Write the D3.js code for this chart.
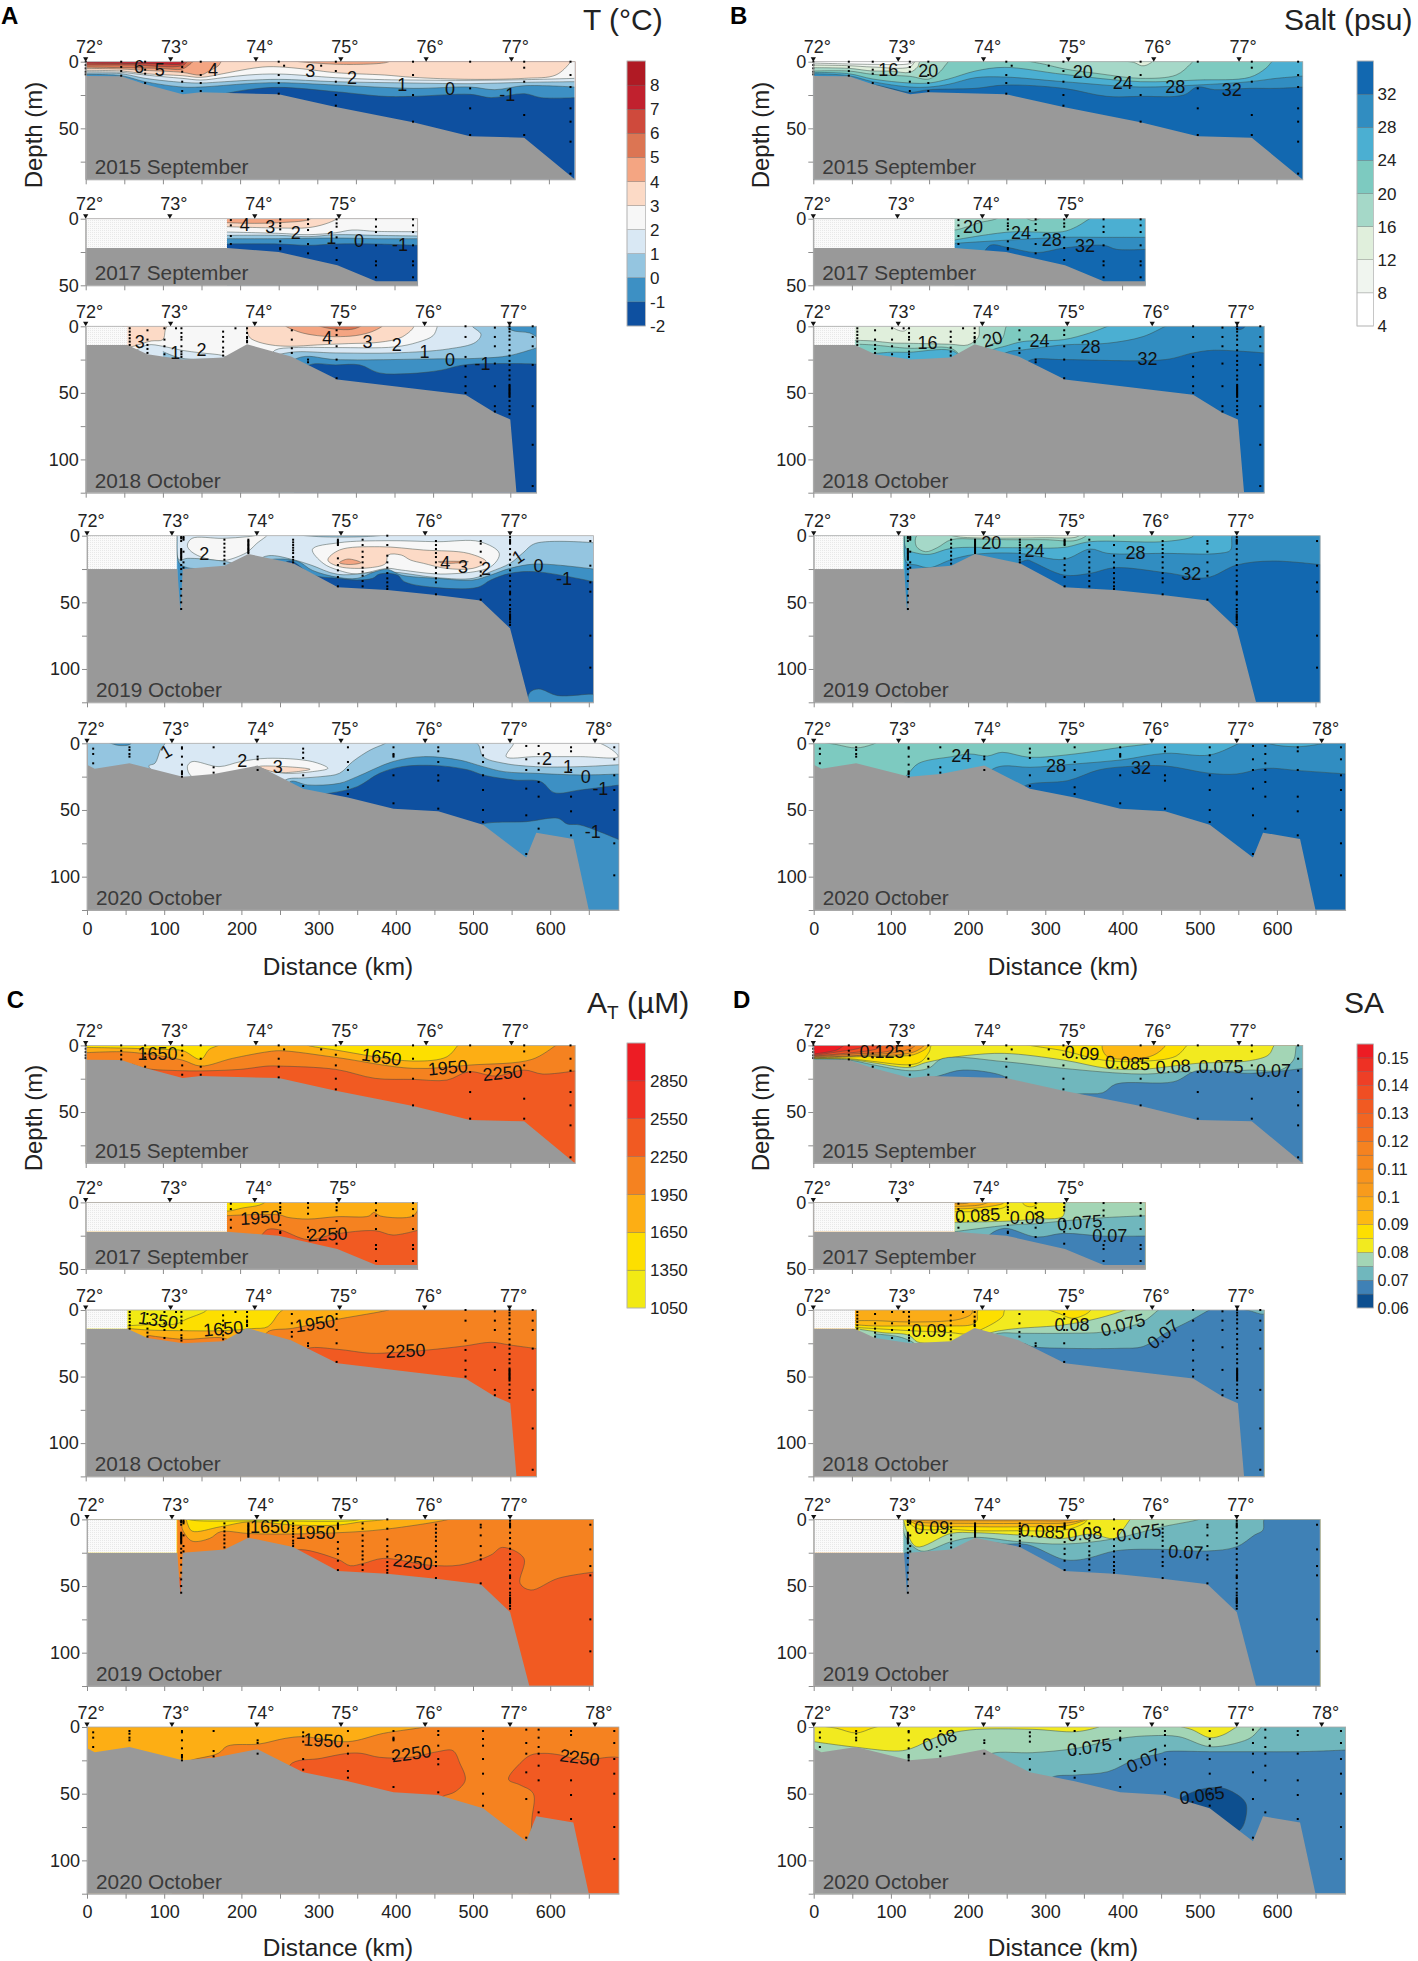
<!DOCTYPE html>
<html><head><meta charset="utf-8">
<script src="https://d3js.org/d3.v7.min.js"></script>
<style>html,body{margin:0;background:#fff}svg{display:block}text{font-family:"Liberation Sans",Arial,sans-serif}</style>
</head><body><svg id="c" width="1418" height="1961"></svg>
<script>
// ---------- scales of the colour bars ----------
const tLevels=[-2,-1,0,1,2,3,4,5,6,7,8];
const tColors=["#0e50a0","#3d90c4","#94c5e0","#d9e8f4","#f7f7f7","#fcdac6","#f4a582","#dc7553","#cf4a3c","#c1212e","#b01a24"];
const sLevels=[4,8,12,16,20,24,28,32];
const sColors=["#ffffff","#f0f5ef","#e0efdc","#a5d8c8","#7dcac0","#4bafd2","#318dc1","#1268b0"];
const aLevels=[1050,1350,1650,1950,2250,2550,2850];
const aColors=["#f2ea14","#fddf00","#fdae14","#f58220","#f15a22","#ee3124","#ed1c24"];
const dLevels=[.06,.065,.07,.075,.08,.085,.09,.095,.1,.105,.11,.115,.12,.125,.13,.135,.14,.145,.15];
const dColors=["#0d4f8f","#3f81b6","#70b7bd","#a3d5b5","#f2ea1f","#fddf00","#fdb913","#fbac17","#f89b1c","#f8941d","#f6881f","#f58220","#f3701f","#f26522","#f15a22","#f04e23","#ee3f26","#ee3124","#ed1c24"];
const tTicks=[-2,-1,0,1,2,3,4,5,6,7,8];
const sTicks=[4,8,12,16,20,24,28,32];
const aTicks=[1050,1350,1650,1950,2250,2550,2850];
const dTicks=[.06,.07,.08,.09,.1,.11,.12,.13,.14,.15];

// ---------- section extents, degrees, seabed ----------
const years=["2015 September","2017 September","2018 October","2019 October","2020 October"];
const maxKm=[634,430,584,656,689];
const maxDepth=[88.25,50,125,125,125];
const degKm2015=[0,110,220.5,330.5,441,551.5];
const degKm2017=[0,109,219,328];
const degKm2018=[0,110,219,329,439,549];
const degKm2019=[0,110,220,329,438,548];
const degKm2020=[0,110,220,329,438,548,658];
const bathy2015=[[0,10.75],[46,11],[77,17],[125.6,24.5],[149,23],[250,24.5],[324,34],[424,45.5],[498,56],[568,57],[633,88]];
const bathy2017=[[0,22],[183,22],[250,25],[326,35],[376,47],[430,47]];
const bathy2018=[[0,14],[54,14],[80,21],[126,25],[178,23.5],[209,13.5],[266,22.7],[326,40],[492,51.5],[530,65],[550,70],[558,125]];
const bathy2019=[[0,25],[117,25],[121,57],[124,25],[178,22.5],[209,13.7],[267,20.7],[325,38.7],[389,40.7],[452,44.5],[510,48.7],[548,69.5],[573,125]];
const bathy2020=[[0,16],[10,19],[55,15],[124,25],[164,23],[221,16.7],[280,34],[338,40.7],[397,49],[455,51],[513,61],[569,85.7],[582,67],[630,71.7],[650,125]];
const blank2015=null, blank2017=[183,22], blank2018=[54,14], blank2019=[116,25], blank2020=null;

// ---------- sample positions [km,[depths]] ----------
const st2015=[[0,[0,2.5,5,7.5,9.5]],[46,[0,4,7,10.5]],[77,[0,6,9,16]],[125,[0,4,7.5,15,22]],[149,[0,10,16,22]],[250,[0,10,16,24]],[257,[3]],[305,[3]],[324,[0,7,15,25,33]],[424,[0,10,25,45]],[498,[0,20,35,55]],[568,[0,4.5,15,40,55]],[628,[0,10,19,35,45,60,84]]];
const st2017=[[188,[1,5,13,19]],[252,[.5,3.5,5.5,8,17,22,23]],[288,[.5,4,8.5,19,26]],[325,[.5,3.5,6,14,22,31]],[376,[.5,6,10,20,32,35,44]],[424,[.5,5,10,20,32,35,44]]];
const st2018=[[57,[1.5,4,6.5,9,11.5,14]],[80,[3,10,14,17,20]],[102,[1.5,10,15,21]],[117,[1.5]],[124,[1.5,5,8,10,15,19,21,23]],[178,[4,8,11.5,16,19,22]],[194,[1.5]],[209,[1.5,5,8,9,11,12]],[267,[3,10,16.5,20]],[288,[25,27]],[325,[3,6.5,15,25,39]],[492,[0,8,23,30,38,45,50]],[530,[1,8,15,28,45,60,64]],[549,[0,2,4,7,10,14,18,22,26,29,33,37,40,44,45,46,47,48,49,50,51,52,53,56,60,63,66]],[579,[0,8,15,29,60,89,120]]];
const st2019=[[122,[1,2,4,10,11,12,13,14,15,16,17,18,22,25,29,34,40,45,50,55]],[125,[1,2,3,12,20,24]],[178,[3,6,9,12,15,18,21]],[209,[3,4,5,6,7,8,9,10,11,12,13]],[267,[3,5,7,9,11,13,16,18,20]],[325,[3,4,5,6,7,17,22,26,31,38]],[357,[3,7,12,16,20,24,27,30,34,38]],[389,[0,7,15,20,24,28,32,35,38,40]],[452,[4,7,10,13,16,20,24,28,32,35,44]],[510,[4,6,12,20,27,30,48]],[548,[1,3,4,5,6,10,14,18,22,26,30,34,38,42,43,44,48,52,55,57,59,60,61,62,63,65,67]],[652,[4,22.5,35,42,75,99]]];
const st2020=[[8,[4,8,15]],[55,[3,5,8,10]],[123,[3,4,10,16,21,22,23,25]],[164,[3,18,22]],[221,[10,12,20]],[280,[4,7,11,24,32]],[338,[3,14,20,33,38]],[397,[3,8,9,10,24,45]],[455,[3,6,14,24,28,49]],[513,[3,9,14,24,35,50,59]],[569,[2,12,20,34,54,83]],[585,[2,8,15,20,29,40,64]],[627,[3,6,20,40,51,69]],[683,[3,12,24,35,50,75,99]]];

// ---------- contours: [band, [km,depth,...], closed?]  band alone = whole background ----------
const T2015_iso=[[7],
[6,[0,1,90,1.5,125,1.5,130,-1,640,-1]],
[5,[0,2.5,60,2.5,125,3,135,-1,640,-1]],
[4,[0,4,50,4.5,96,5,125,5.5,135,2,142,-1,640,-1]],
[3,[0,5,46,5.5,77,6.5,125,8,149,10,160,7,172,3,178,-1,640,-1]],
[4,[265,-1,330,2,390,.5,395,-1],1],
[2,[0,6.5,46,7,77,9,125,10.5,149,11.75,178,9,210,5.5,236,3.75,266,4.5,294,6.25,324,8.25,387,10,424,11.75,498,13.25,568,12.5,609,10,627,1,629,-1,640,-1]],
[1,[0,7.5,46,8,77,10,125,12.5,149,13.75,178,12,210,10,250,9.25,324,12,387,13.5,424,13.75,498,14,568,13.5,633,12.5]],
[0,[0,8.5,46,9,77,12.5,125,15.5,149,16,180,15,210,14,250,13.25,324,15,424,16,498,16.5,568,15.5,633,15]],
[-1,[0,9.5,46,10.5,77,15,125,19,149,19,210,16.5,250,15.75,324,17.5,424,20,498,19,530,21,568,18,633,19]],
[-2,[100,30,170,25,180,24,210,21,250,19.25,324,22.5,387,26,424,26,498,24.5,525,27,568,24,590,27,633,27]]];
const T2015_lab=[["6",69,3.75],["5",96,5.75],["4",165,5.5],["3",291,6.75],["2",345,12],["1",410,17],["0",472,20],["-1",546,25]];
const T2017_iso=[[4],
[3,[183,3,219,3.5,250,3,288,1,295,-1,435,-1]],
[2,[183,6,252,7,288,6.75,310,4,324,.5,326,-1,435,-1]],
[1,[183,10,250,11,288,12,324,10.5,345,8.5,376,9.5,431,9.75]],
[0,[183,12.5,250,12.5,288,13.5,324,12,376,12.5,431,13]],
[-1,[183,15,250,15,324,14.5,376,15,431,15]],
[-2,[183,19,250,19,288,20,324,19,376,19,431,20]]];
const T2017_lab=[["4",206,4],["3",239,6],["2",272,10.5],["1",318,14],["0",354,16.5],["-1",407,19.75]];
const T2018_iso=[[2],
[3,[50,-1,50,15,85,11,100,10,103,3,105,-1],1],
[3,[210,-1,212,8,220,11,240,14,265,15,300,14,340,13,380,12,410,8,425,-1],1],
[4,[258,-1,275,4,300,7,330,7.75,355,6.5,375,3,385,-1],1],
[5,[300,-1,315,1.5,340,2.5,350,1.5,358,-1],1],
[1,[60,20,80,14,100,15,124,18,150,20,178,22,190,25,235,25,245,18,270,16,324,16,400,15.5,430,12,450,7,455,1,456,-1,590,-1]],
[0,[100,19,124,24,178,25,235,30,240,24,266,19.5,324,20,400,20,470,17,505,12,512,6,500,-1,590,-1]],
[-1,[545,-1,552,3,575,5,590,9,595,-1],1],
[-1,[240,35,280,23,324,25,450,24.5,510,24,549,22,590,15]],
[-2,[270,40,290,29,324,29,355,29,380,35,420,35.5,460,33,490,29,549,28,590,28.5]]];
const T2018_lab=[["3",70,11.5],["1",116,20],["2",150,17.75],["4",313,8.25],["3",365,11.5],["2",403,14],["1",439,19],["0",472,24.75],["-1",514,28]];
const T2019_iso=[[1],
[0,[270,-1,300,.7,360,.7,392,-1],1],
[2,[130,7,136,2,176,2,208,.75,234,-1,220,5.75,211,10.75,205,13.25,176,18.75,147,15.75,133,10.75],1],
[2,[292,10.25,327,5.25,390,3.75,454,4.5,509,4.5,534,13.25,523,23.25,465,28.75,407,25.75,389,24.5,350,28.75,325,25.75,306,20.75],1],
[3,[312,18.25,327,10.75,379,8.25,436,10.75,494,13.25,517,19.5,500,24.5,465,24.5,436,20.75,419,18.25,407,14.5,390,14.5,387,20.75,367,24,327,23.25],1],
[4,[327,20.25,338,17.5,355,20.25,345,21.5,332,21.25],1],
[4,[455,19.5,494,19.5,465,20.75],1],
[0,[116,-1,119,18,130,17,176,19,205,22,235,15,267,18,290,22,325,29,389,27,454,31.5,500,32,523,27,548,20.75,564,13.25,581,5.75,656,5.25]],
[-1,[117,-1,119,20,130,24,176,24,205,24,235,18,272,19,292,26,325,31.25,350,32,373,27,389,25.25,407,29.5,454,32,500,33.25,523,29.5,548,24.5,581,21.25,656,25]],
[-2,[240,30,262,19,292,29.5,325,32,350,33.25,370,32,379,28.75,402,29.5,411,34.5,449,38.75,506,38.75,523,33.25,548,28.25,581,27,656,34.5]],
[-1,[570,130,573,118,585,115,610,120,656,119,660,120]]];
const T2019_lab=[["2",152,13.25],["4",464,20],["3",487,23],["2",517,24.5],["1",558,15.75,-35],["0",585,22],["-1",618,32]];
const T2020_iso=[[1],
[0,[0,-1,0,30,100,30,80,17,88,15,95,5,101,-1],1],
[-1,[28,-1,40,1.5,55,1,58,-1],1],
[0,[240,40,257,27.5,280,26,303,25,327,22.5,344,13.75,367,5,384,.75,390,-1,500,-1,507,1,513,10,540,15,581,17.5,639,17.5,690,16]],
[2,[543,10,552,1,553,-1,660,-1,688,10,639,10,581,10],1],
[2,[130,17.5,136,13.75,171,17.5,199,13.75,234,11.25,292,13.75,312,18.75,292,21.25,257,22.5,234,20,211,20,176,23,136,25],1],
[3,[223,17.5,257,17.5,289,19.5,257,22,240,21.25],1],
[-1,[250,45,263,28.75,286,31.25,327,30,350,25,396,13.75,436,10,482,12.5,513,17.5,540,21.25,581,22.5,639,23.75,690,23]],
[-2,[270,40,314,37.5,350,32.5,379,22.5,408,17.5,454,16.75,494,20,513,23.75,553,27.5,588,28.75,605,37,639,35,690,31.25]],
[-1,[500,65,513,60.5,569,58.75,610,56.25,622,60.5,639,61.25,690,72.5]]];
const T2020_lab=[["1",102,6,-30],["2",201,13],["3",247,17.5],["2",596,11.25],["1",623,17.5],["0",646,25],["-1",665,33.75],["-1",655,66]];

const S2015_iso=[[4],
[8,[0,1,80,2,125,1.5,135,-1,640,-1]],
[12,[0,2.5,46,3,77,4,125,4,135,-1,640,-1]],
[16,[0,4.5,46,5,77,7,100,7,125,8,135,4,140,-1,640,-1]],
[20,[0,7,46,7,77,9.5,125,11,150,13,165,7,172,2,178,-1,640,-1]],
[16,[277,-1,300,2,326,5.5,370,9,424,12.5,470,10,488,2,492,-1],1],
[12,[390,-1,415,.5,425,3,432,2.5,440,-1],1],
[24,[0,8,46,9,77,13,125,16,150,16,175,13,210,7,248,4.25,324,9.5,424,15,497,13.75,565,11.75,586,5,594,0,596,-1,640,-1]],
[28,[0,9,46,10.5,77,15,125,19,150,19,175,17,210,12,248,11.5,324,15,424,19,497,17.5,565,15,600,12.5,635,10.75]],
[32,[60,20,77,17.5,100,20,125,23,150,21,210,20,248,17.5,324,20,380,26,424,26,480,25,497,19,520,21,565,20,600,20,635,19]]];
const S2015_lab=[["16",97,5.75],["20",149,6.75],["20",349,7.5],["24",401,15.5],["28",469,18.25],["32",542,20.75]];
const S2017_iso=[[20],
[16,[180,-1,180,8,200,6,215,3,235,.5,240,-1],1],
[16,[275,-1,285,1.5,295,-1],1],
[24,[183,16,254,10,323,9.75,341,6,358,0,362,-1,435,-1]],
[28,[183,18.5,254,16,323,14,376,14,431,14]],
[32,[215,32,229,20,251,21.5,289,25.5,325,22,376,20,393,23,431,23]]];
const S2017_lab=[["20",207,6],["24",269,10.5],["28",309,16],["32",352,20.5]];
const S2018_iso=[[12],
[8,[100,-1,108,2.5,118,3.5,125,-1],1],
[16,[52,10.5,77,11,102,12.5,124,12.75,178,13.5,200,14,214,8,215,0,216,-1,590,-1]],
[20,[60,13.5,77,14,124,16.5,178,16.5,200,25,225,15,244,10,250,0,252,-1,590,-1]],
[24,[70,21,100,19.5,124,19.5,178,18,200,25,235,17,248,15,271,11.5,324,10,358,5,381,0,385,-1,590,-1]],
[28,[230,25,254,19,271,17.75,324,14,381,12.75,427,7.75,456,0,460,-1,590,-1]],
[32,[270,30,283,25,324,25,456,25,492,20,518,18,584,20]],
[32,[545,-1,551,2.5,558,1,560,-1],1]];
const S2018_lab=[["16",148,12],["20",232,9.5,-15],["24",293,11],["28",359,15.25],["32",433,24.5]];
const S2019_iso=[[20],
[16,[133,8,135,-1,354,-1,340,3.5,300,3,250,3,210,2.5,178,3,160,9,145,12],1],
[12,[175,-1,190,1,300,1.5,340,1,345,-1],1],
[24,[117,-1,120,10,133,13,150,14,178,9.5,248,9,324,8.75,358,4.5,452,4.5,490,1,494,-1,660,-1]],
[28,[118,-1,120,20,133,22,150,24,178,18,209,14,266,13.25,324,17.75,358,10,381,13.25,452,13.25,525,13.25,540,10.75,542,0,545,-1,660,-1]],
[32,[260,22,277,18.25,283,19.5,324,29.5,358,28.25,390,24,456,27.75,509,31.5,548,22,594,19,660,22]]];
const S2019_lab=[["20",230,5.25],["24",286,10.75],["28",417,12.75],["32",489,28.25]];
const S2020_iso=[[20],
[16,[12,-1,30,1,55,3.5,75,1,82,-1],1],
[24,[110,30,122,23,136,15,179,10,202,8,225,9.5,244,6.75,280,10.5,338,8,398,3,438,0,442,-1,690,-1]],
[28,[215,30,230,20,245,17,280,18,338,15.5,398,12.5,456,7.5,513,8.75,551,0,555,-1,690,-1]],
[24,[585,-1,600,1.5,630,2.5,660,0,665,-1],1],
[32,[265,36,277,31,329,28,369,20,404,17.5,456,17,513,22.5,548,23,585,18.75,629,20.5,690,23]]];
const S2020_lab=[["24",191,9.25],["28",314,16.75],["32",424,18]];

const A2015_iso=[[1350],
[1650,[0,1.5,46,2,100,3,126,4,149,10.5,160,3,172,0,175,-1,285,-1,288,0,324,3.5,424,11.75,468,8.5,482,0,484,-1,640,-1]],
[1950,[0,5.5,46,4.75,80,6.5,125,11,149,15.5,190,9.75,236,4.75,253,4,324,9,424,17.25,498,14.75,578,10.5,609,0,612,-1,640,-1]],
[2250,[60,14,77,17.25,125,19,161,19,200,18,236,15.5,250,15.5,324,18,375,24.75,424,25.5,468,26,496,19.75,531,23,568,18.5,592,21.5,635,19]]];
const A2015_lab=[["1650",93,6],["1650",383,8.5,8],["1950",469,16.5,-5],["2250",540,20.5,-5]];
const A2017_iso=[[1650],
[1350,[180,-1,180,6,205,4,225,2,232,0,234,-1],1],
[1950,[183,10,225,9,252,9.5,262,11.25,288,12.5,325,10.75,367,10.25,373,7.5,382,10.25,424,10.25,431,4.5]],
[2250,[215,35,228,24.5,236,20.25,252,20.75,288,28,323,23.75,375,21.25,398,24.5,431,20.75]]];
const A2017_lab=[["1950",226,11.25,-3],["2250",313,23.75,-3]];
const A2018_iso=[[1050],
[1350,[52,12,80,11,117,10.5,130,7,155,1,158,-1,590,-1]],
[1650,[54,13.75,80,15,120,15.5,178,15.5,215,14,236,12.5,250,2.5,255,0,258,-1,590,-1]],
[1950,[80,19,126,22,178,21,195,25,225,25,236,16.25,268,13.75,326,7,392,0,396,-1,590,-1]],
[2250,[270,35,288,28.75,326,29.5,369,32.5,398,32,444,30,491,27,525,24.25,549,26.25,590,29.5]]];
const A2018_lab=[["1350",94,7.5,8],["1650",178,13.75,-5],["1950",297,10,-8],["2250",414,30.5,-3]];
const A2019_iso=[[1350],
[1050,[128,-1,135,.5,230,1,350,.5,356,-1],1],
[1650,[117,-1,128,0,130,3,136,8.75,173,5.5,211,1.75,269,4.25,325,4.25,356,1.75,385,0,388,-1,660,-1]],
[1950,[117,-1,122,3,124,8,136,16.25,159,14.25,173,9.25,208,10.5,245,11,325,10,385,7.5,468,0,472,-1,660,-1]],
[2250,[260,30,272,23,325,30,341,34.75,358,33,384,29.25,442,34.25,483,34.25,523,26.75,538,21,566,29.25,561,48,575,53,610,44.25,660,39.25]],
[2250,[115,45,130,45,130,60,115,60],1]];
const A2019_lab=[["1650",237,5],["1950",296,9.75],["2250",422,31.75,6]];
const A2020_iso=[[1650],
[1950,[110,30,136,24.75,170,19.75,182,14.25,223,12.75,257,8.5,280,7.25,338,11,384,4.75,436,0,440,-1,690,-1]],
[2250,[263,28.5,303,23.5,338,19.75,355,19.75,379,22.75,419,22.75,454,18.5,474,17.75,483,27.25,490,39.75,477,48.5,460,52.25,440,60,263,60],1],
[2250,[546,39.25,561,27.25,575,21,592,19.75,613,21,639,24.75,700,26,700,130,578,130,576,72,578,49.75,561,43.5],1]];
const A2020_lab=[["1950",306,9.75,3],["2250",420,19.75,-8],["2250",638,22.75,7]];

const D2015_iso=[[.15],
[.145,[0,6.5,30,3.5,45,-1,640,-1]],
[.135,[0,7.5,30,5,60,2,70,-1,640,-1]],
[.125,[0,8,40,6,80,3,95,-1,640,-1]],
[.115,[0,8.5,50,6.5,100,4,115,-1,640,-1]],
[.105,[0,9,60,7.5,110,5,128,2,135,-1,640,-1]],
[.09,[0,9.5,60,8,110,7,130,5,140,2,147,-1,640,-1]],
[.085,[0,9.7,60,8.5,110,8,130,7,147,2,150,-1,640,-1]],
[.08,[0,10,46,10,77,12,125,14.5,140,12,150,5,155,-1,640,-1]],
[.085,[275,-1,324,4,375,11,424,12,470,8,484,0,486,-1],1],
[.09,[375,-1,380,8,424,9.75,445,6,456,-1],1],
[.075,[0,10.2,46,10.5,77,13,125,16.5,145,13,170,10,200,7.5,248,6,324,11,381,17.25,424,18,497,13.5,565,11.5,590,7,597,0,600,-1,640,-1]],
[.07,[0,10.4,46,11,77,14.5,125,19,149,17.25,168,9.75,248,12.25,324,17.25,424,21.5,485,19.75,497,21,565,18.5,605,18.5,622,11,626,0,628,-1,640,-1]],
[.065,[120,30,162,23,194,18.5,248,23.5,255,28,310,40,343,36.5,375,35.5,392,29,467,27.25,497,19,565,21,635,17.25]]];
const D2015_lab=[["0.125",89,4.25],["0.09",348,5.5,5],["0.085",407,13,3],["0.08",466,15.5,-3],["0.075",528,16],["0.07",596,18.5]];
const D2017_iso=[[.1],
[.095,[183,1,200,.5,205,-1,435,-1]],
[.09,[183,3,215,2,235,-1,435,-1]],
[.085,[183,5,215,4,245,1,250,-1,435,-1]],
[.08,[183,7,220,6.5,250,3,254,-1,435,-1]],
[.085,[270,-1,275,2.5,285,3,292,-1],1],
[.075,[183,15,254,14,288,12.5,323,10.5,326,2,328,-1,435,-1]],
[.07,[183,22,254,17,288,16,323,14,376,11.5,431,10]],
[.065,[215,35,229,24,248,19.5,289,26,324,23.25,375,25.25,431,25.25]]];
const D2017_lab=[["0.085",213,9.5,-3],["0.08",277,11.5],["0.075",345,15,-5],["0.07",384,24.5]];
const D2018_iso=[[.095],
[.09,[52,8,80,8,124,9,178,8,195,6,205,3,208,-1,590,-1]],
[.085,[52,11,80,12,124,12,178,12,205,11,212,8,215,-1,590,-1]],
[.08,[52,13,80,14,124,15.5,178,17,200,18,220,14,245,5,250,-1,590,-1]],
[.085,[303,-1,320,3,335,6.25,350,4,358,1,360,-1],1],
[.075,[60,14.5,90,17,124,19,135,24,178,24.5,200,24,230,17,248,15,267,13.75,324,11.25,369,6.25,404,0,408,-1,590,-1]],
[.07,[80,18,110,20,125,23,135,26,200,25,240,17.5,267,17.5,324,17.5,380,16.25,427,8.75,447,0,450,-1,590,-1]],
[.065,[250,30,271,25,283,27.5,324,28.75,398,28.75,427,27.5,456,17.5,490,7.5,513,0,517,-1,590,-1]],
[.07,[555,-1,565,.5,584,3,590,-1],1]];
const D2018_lab=[["0.09",150,15.5],["0.08",335,11],["0.075",401,11,-15],["0.07",453,18,-40]];
const D2019_iso=[[.1],
[.095,[116,-1,130,.5,210,1,280,1,330,.8,345,-1,660,-1]],
[.09,[116,-1,126,.5,135,2,210,3,280,3,330,2.5,350,0,352,-1,660,-1]],
[.085,[116,-1,124,1,135,4,210,5.5,280,5.5,325,5,350,1,358,-1,660,-1]],
[.08,[116,-1,122,2,135,7,178,7.5,210,8.5,267,8.5,325,8,350,3,358,-1,660,-1]],
[.075,[116,-1,120,8,133,20.5,178,10.5,208,10,266,11.75,324,14.25,358,11,390,14.25,400,8,410,0,412,-1,660,-1]],
[.07,[116,-1,118,12,139,23.75,178,16.75,208,13.5,266,16.75,324,18.5,387,14.75,452,5.5,499,0,502,-1,660,-1]],
[.065,[200,30,231,18,248,18.5,277,19,323,30,341,30.5,358,28.75,392,23.5,456,22.5,509,23.75,548,20.5,571,11.75,582,8,583,.5,585,-1,660,-1]],
[.065,[116,26,128,26,125,60,118,60],1]];
const D2019_lab=[["0.09",153,6],["0.085",296,8.75,3],["0.08",351,10.5,-5],["0.075",421,9.75,-8],["0.07",482,24.25,3]];
const D2020_iso=[[.08],
[.085,[10,-1,30,1,55,4.5,75,1,85,-1],1],
[.075,[0,11,52,15,110,18,127,16,162,7,202,2.25,283,1.75,340,3.5,369,0,372,-1,690,-1]],
[.08,[473,-1,490,2,513,8,530,6,545,1,550,-1],1],
[.07,[215,25,231,19.75,283,19.25,340,16,398,8.5,438,6.5,473,7.25,513,14.75,554,11,568,7.25,580,0,583,-1,690,-1]],
[.065,[300,45,309,37.75,340,36,381,33.5,415,24.75,450,19.75,456,18.5,513,18.5,571,18.5,629,18.5,690,17.25]],
[.06,[474,54.75,502,46.75,531,46,557,54.75,561,61,551,77.75,500,70,474,60],1]];
const D2020_lab=[["0.08",163,9.75,-20],["0.075",357,15,-8],["0.07",427,25,-25],["0.065",503,51,-8]];

// ---------- assembling ----------
const fmtPairs=a=>d3.range(0,a.length,2).map(i=>[a[i],a[i+1]]);
const svg=d3.select("#c");
const defs=svg.append("defs");
const pat=defs.append("pattern").attr("id","stip").attr("width",2).attr("height",2).attr("patternUnits","userSpaceOnUse");
pat.append("rect").attr("width",2).attr("height",2).attr("fill","#fafafa");
pat.append("rect").attr("width",1).attr("height",1).attr("fill","#e8e8e8");

const bathys=[bathy2015,bathy2017,bathy2018,bathy2019,bathy2020];
const blanks=[blank2015,blank2017,blank2018,blank2019,blank2020];
const degs=[degKm2015,degKm2017,degKm2018,degKm2019,degKm2020];
const stations=[st2015,st2017,st2018,st2019,st2020];
const pxPerKm=.772;
let clipN=0;

function section(p,i,iso,labs,levels,colors,bottomAxis){
  const x0=p.x0[i], top=p.dy+[61.7,218.7,326.3,535.7,743.3][i], bot=p.dy+[179.3,285.3,492.7,702.3,910][i];
  const x=d3.scaleLinear([0,maxKm[i]],[x0,x0+maxKm[i]*pxPerKm]);
  const y=d3.scaleLinear([0,maxDepth[i]],[top,bot]);
  const color=d3.scaleOrdinal(levels,colors);
  const id="cl"+(++clipN);
  defs.append("clipPath").attr("id",id).append("rect").attr("x",x.range()[0]).attr("y",top).attr("width",x.range()[1]-x.range()[0]).attr("height",bot-top);
  const g=svg.append("g").attr("clip-path",`url(#${id})`);
  const open=d3.line().x(d=>x(d[0])).y(d=>y(d[1])).curve(d3.curveCatmullRom.alpha(.5));
  const closed=d3.line().x(d=>x(d[0])).y(d=>y(d[1])).curve(d3.curveCatmullRomClosed.alpha(.5));
  iso.forEach(e=>{
    if(e.length===1){g.append("rect").attr("x",x.range()[0]).attr("y",top).attr("width",x.range()[1]-x.range()[0]).attr("height",bot-top).attr("fill",color(e[0]));return;}
    const pts=fmtPairs(e[1]);
    if(e[2]){
      g.append("path").attr("d",closed(pts)).attr("fill",color(e[0])).attr("stroke","#3c4a44").attr("stroke-width",.6).attr("stroke-opacity",.8);
    }else{
      const l=open(pts), a=pts[0], b=pts[pts.length-1];
      g.append("path").attr("d",`${l}L${x(b[0])},${bot+20}L${x(a[0])},${bot+20}Z`).attr("fill",color(e[0]));
      g.append("path").attr("d",l).attr("fill","none").attr("stroke","#3c4a44").attr("stroke-width",.6).attr("stroke-opacity",.8);
    }
  });
  // seabed
  const area=d3.area().x(d=>x(d[0])).y0(bot).y1(d=>y(d[1]));
  g.append("path").attr("d",area(bathys[i])).attr("fill","#999999");
  const bl=blanks[i];
  if(bl)g.append("rect").attr("x",x(0)).attr("y",y(0)).attr("width",x(bl[0])-x(0)).attr("height",y(bl[1])-y(0)).attr("fill","url(#stip)");
  // frame
  svg.append("rect").attr("x",x.range()[0]).attr("y",top).attr("width",x.range()[1]-x.range()[0]).attr("height",bot-top).attr("fill","none").attr("stroke","#a8a8a8").attr("stroke-width",.8);
  // samples
  const pts=stations[i].flatMap(s=>s[1].map(d=>[s[0],d]));
  svg.append("g").selectAll("rect").data(pts).join("rect").attr("x",d=>x(d[0])-1).attr("y",d=>y(d[1])-1).attr("width",2).attr("height",2).attr("fill","#000");
  // degree marks
  const deg=degs[i];
  svg.append("g").selectAll("path").data(deg).join("path").attr("d",d3.symbol(d3.symbolTriangle,12)).attr("transform",d=>`translate(${x(d)},${top-3}) rotate(180)`).attr("fill","#111");
  svg.append("g").selectAll("text").data(deg).join("text").attr("x",d=>x(d)+4).attr("y",top-8.5).attr("text-anchor","middle").attr("font-size",18).attr("fill","#222").text((d,k)=>(72+k)+"°");
  // axes
  const yt=[0,25,50,75,100,125].filter(d=>d<=maxDepth[i]);
  const ay=svg.append("g").attr("transform",`translate(${x0},0)`).call(d3.axisLeft(y).tickValues(yt).tickSize(5).tickSizeOuter(0).tickPadding(2).tickFormat(d=>d%50===0?d:""));
  const xt=d3.range(0,maxKm[i]+1,50);
  const ax=svg.append("g").attr("transform",`translate(0,${bot})`).call(d3.axisBottom(x).tickValues(xt).tickSize(5).tickSizeOuter(0).tickPadding(7).tickFormat(d=>bottomAxis&&d%100===0?d:""));
  [ay,ax].forEach(a=>{a.selectAll("line,path").attr("stroke","#8c8c8c");a.selectAll("text").attr("font-size",18).attr("fill","#222").attr("font-family",'"Liberation Sans",Arial,sans-serif');a.select("path.domain").attr("stroke","#a8a8a8");});
  // year
  svg.append("text").attr("x",x0+9).attr("y",bot-5).attr("font-size",20.8).attr("fill","#3a3a3a").text(years[i]);
  // contour labels
  svg.append("g").selectAll("text").data(labs).join("text").attr("transform",d=>`translate(${x(d[1])},${y(d[2])}) rotate(${d[3]||0})`).attr("text-anchor","middle").attr("dy",".36em").attr("font-size",18).attr("fill","#111").text(d=>d[0]);
}

function colorbar(bx,bw,yTop,yBot,lo,hi,levels,colors,ticks,labx,fs,fmt){
  const y=d3.scaleLinear([lo,hi],[yBot,yTop]);
  const bands=levels.map((l,i)=>[l,i<levels.length-1?levels[i+1]:hi,colors[i]]);
  svg.append("g").selectAll("rect").data(bands).join("rect").attr("x",bx).attr("width",bw).attr("y",d=>y(d[1])).attr("height",d=>y(d[0])-y(d[1])).attr("fill",d=>d[2]).attr("stroke","#555").attr("stroke-width",.4).attr("stroke-opacity",.7);
  svg.append("rect").attr("x",bx).attr("y",yTop).attr("width",bw).attr("height",yBot-yTop).attr("fill","none").attr("stroke","#c4c4c4").attr("stroke-width",.8);
  svg.append("g").selectAll("text").data(ticks).join("text").attr("x",labx).attr("y",d=>y(d)).attr("dy",".36em").attr("font-size",fs).attr("fill","#222").text(fmt);
}

const panels=[
 {x0:[85.7,85.7,85.7,87,87],dy:0,lv:tLevels,col:tColors,data:[[T2015_iso,T2015_lab],[T2017_iso,T2017_lab],[T2018_iso,T2018_lab],[T2019_iso,T2019_lab],[T2020_iso,T2020_lab]]},
 {x0:[813.3,813.3,813.3,813.7,813.7],dy:0,lv:sLevels,col:sColors,data:[[S2015_iso,S2015_lab],[S2017_iso,S2017_lab],[S2018_iso,S2018_lab],[S2019_iso,S2019_lab],[S2020_iso,S2020_lab]]},
 {x0:[85.7,85.7,85.7,87,87],dy:983.7,lv:aLevels,col:aColors,data:[[A2015_iso,A2015_lab],[A2017_iso,A2017_lab],[A2018_iso,A2018_lab],[A2019_iso,A2019_lab],[A2020_iso,A2020_lab]]},
 {x0:[813.3,813.3,813.3,813.7,813.7],dy:983.7,lv:dLevels,col:dColors,data:[[D2015_iso,D2015_lab],[D2017_iso,D2017_lab],[D2018_iso,D2018_lab],[D2019_iso,D2019_lab],[D2020_iso,D2020_lab]]}
];
panels.forEach(p=>p.data.forEach((d,i)=>section(p,i,d[0],d[1],p.lv,p.col,i===4)));

colorbar(627,18.5,61,326,-2,9,tLevels,tColors,tTicks,650,17,d=>d);
colorbar(1357,16.6,61,326,4,36,sLevels,sColors,sTicks,1377.6,17,d=>d);
colorbar(627,18.5,1043,1308,1050,3150,aLevels,aColors,aTicks,650,17,d=>d);
colorbar(1357,16.6,1044,1308,.06,.155,dLevels,dColors,dTicks,1377.6,16,d=>+d.toFixed(2));

// titles
const big=(x,y,s,a)=>svg.append("text").attr("x",x).attr("y",y).attr("font-size",30).attr("fill","#222").attr("text-anchor",a||"start").text(s);
big(583,30,"T (°C)");
big(1284,30,"Salt (psu)");
big(1344,1013,"SA");
const at=big(587,1013,"A");
at.append("tspan").attr("font-size",19).attr("dy",6).text("T");
at.append("tspan").attr("dy",-6).text(" (µM)");
[["A",1,24],["B",730,24],["C",6.7,1008],["D",733,1008]].forEach(d=>svg.append("text").attr("x",d[1]).attr("y",d[2]).attr("font-size",24).attr("font-weight","bold").attr("fill","#000").text(d[0]));
[[338,975],[1063,975],[338,1956],[1063,1956]].forEach(d=>svg.append("text").attr("x",d[0]).attr("y",d[1]).attr("text-anchor","middle").attr("font-size",24.4).attr("fill","#222").text("Distance (km)"));
[[33.5,135],[761,135],[33.5,1118],[761,1118]].forEach(d=>svg.append("text").attr("transform",`translate(${d[0]+8},${d[1]}) rotate(-90)`).attr("text-anchor","middle").attr("font-size",24).attr("fill","#222").text("Depth (m)"));
</script></body></html>
